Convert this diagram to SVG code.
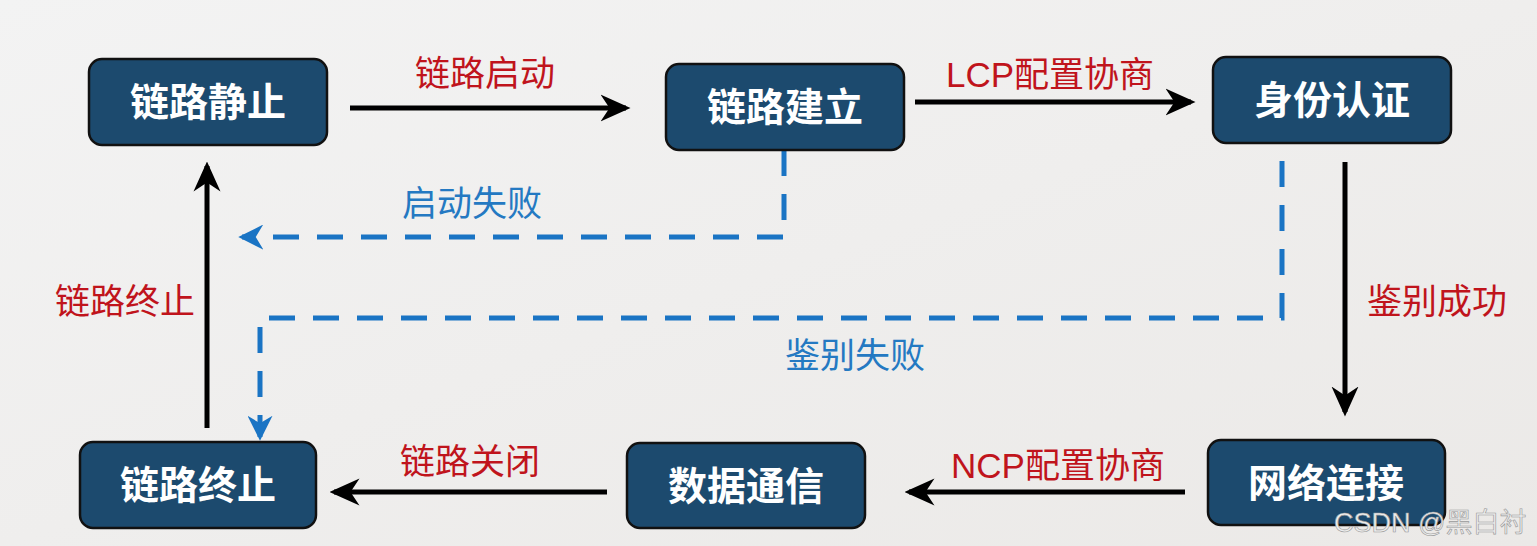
<svg xmlns="http://www.w3.org/2000/svg" width="1537" height="546" viewBox="0 0 1537 546">
<defs>
<style>
.node rect{fill:#1c4a6e;stroke:#111;stroke-width:2.5}
.node text{fill:#fff;font-family:"Noto Sans CJK SC","Liberation Sans",sans-serif;font-weight:bold;font-size:39px;text-anchor:middle}
.solid{stroke:#000;stroke-width:5;fill:none}
.dash{stroke:#1a74c4;stroke-width:5;fill:none;stroke-dasharray:26 18}
.red{fill:#c0141c;font-family:"Liberation Sans","Noto Sans CJK SC",sans-serif;font-size:35px;text-anchor:middle}
.blue{fill:#2479c2;font-family:"Liberation Sans","Noto Sans CJK SC",sans-serif;font-size:35px;text-anchor:middle}
</style>
<linearGradient id="bg" x1="0" y1="0" x2="1" y2="1">
<stop offset="0" stop-color="#f3f3f3"/>
<stop offset="1" stop-color="#ebe9e7"/>
</linearGradient>
<marker id="ah" viewBox="0 0 20 20" refX="17" refY="10" markerWidth="6" markerHeight="6" orient="auto" markerUnits="strokeWidth">
<path d="M0,1 L20,10 L0,19 L6,10 Z" fill="#000"/>
</marker>
<marker id="ahb" viewBox="0 0 20 20" refX="17" refY="10" markerWidth="5" markerHeight="5" orient="auto" markerUnits="strokeWidth">
<path d="M0,0 L20,10 L0,20 L6,10 Z" fill="#1a74c4"/>
</marker>
</defs>
<rect width="1537" height="546" fill="url(#bg)"/>
<g id="connectors">
<line class="solid" x1="350" y1="108" x2="626" y2="108" marker-end="url(#ah)"/>
<line class="solid" x1="915" y1="102" x2="1191" y2="102" marker-end="url(#ah)"/>
<line class="solid" x1="1345" y1="162" x2="1345" y2="412" marker-end="url(#ah)"/>
<line class="solid" x1="1185" y1="492" x2="909" y2="492" marker-end="url(#ah)"/>
<line class="solid" x1="607" y1="492" x2="334" y2="492" marker-end="url(#ah)"/>
<line class="solid" x1="207" y1="428" x2="207" y2="166" marker-end="url(#ah)"/>
<path class="dash" d="M784,150 L784,237 L242,237" marker-end="url(#ahb)"/>
<path class="dash" d="M1282,161 L1282,318 L260,318 L260,437" marker-end="url(#ahb)"/>
<text class="red" x="485" y="86">链路启动</text>
<text class="red" x="1050" y="87">LCP配置协商</text>
<text class="red" x="1437" y="314">鉴别成功</text>
<text class="red" x="1058" y="478">NCP配置协商</text>
<text class="red" x="470" y="474">链路关闭</text>
<text class="red" x="125" y="314">链路终止</text>
<text class="blue" x="472" y="216">启动失败</text>
<text class="blue" x="855" y="368">鉴别失败</text>
</g>
<g id="n1" class="node"><rect x="89" y="59" width="238" height="86" rx="13"/><text x="208" y="116">链路静止</text></g>
<g id="n2" class="node"><rect x="666" y="64" width="238" height="86" rx="13"/><text x="785" y="121">链路建立</text></g>
<g id="n3" class="node"><rect x="1213" y="57" width="238" height="86" rx="13"/><text x="1332" y="114">身份认证</text></g>
<g id="n4" class="node"><rect x="1208" y="440" width="237" height="85" rx="13"/><text x="1326" y="497">网络连接</text></g>
<g id="n5" class="node"><rect x="627" y="443" width="238" height="85" rx="13"/><text x="746" y="500">数据通信</text></g>
<g id="n6" class="node"><rect x="80" y="442" width="236" height="86" rx="13"/><text x="198" y="499">链路终止</text></g>
<text x="1334" y="532" fill="#ececec" stroke="#999" stroke-width="0.6" font-family="Liberation Sans,Noto Sans CJK SC,sans-serif" font-size="27">CSDN @黑白衬</text>
</svg>
